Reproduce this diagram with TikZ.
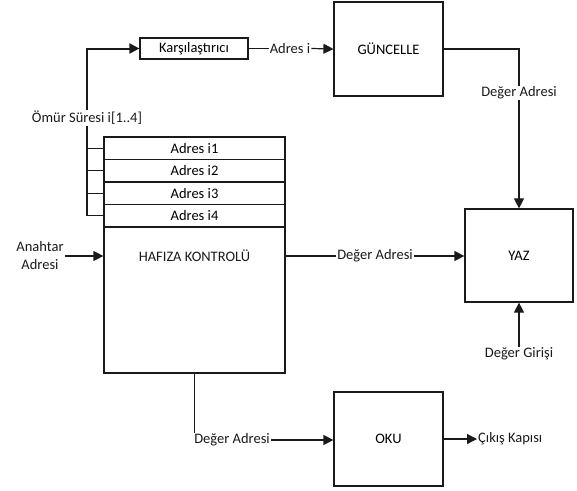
\documentclass[tikz,border=0pt]{standalone}
\usepackage{fontspec}
\setmainfont{Carlito}
\usetikzlibrary{arrows.meta}

\definecolor{blockink}{HTML}{1A1A1A}
\tikzset{
  block/.style={draw=blockink, line width=1.2pt, inner sep=0pt},
  tag/.style={inner sep=1pt, text=blockink},
  link/.style={blockink, line width=1.2pt},
  flow/.style={link, -{Triangle[length=10pt, width=10pt]}},
  bus/.style={blockink, line width=2pt},
}

\begin{document}
\begin{tikzpicture}[x=1pt, y=-1pt, font=\fontsize{14.5}{18}\selectfont]
  \useasboundingbox (0,0) rectangle (577,490);

  % blocks
  \node[block, minimum width=108pt, minimum height=21pt] (karsi) at (194,48.5) {Karşılaştırıcı};
  \node[block, minimum width=109pt, minimum height=94pt] (guncelle) at (388.5,49) {GÜNCELLE};
  \node[block, minimum width=108pt, minimum height=93pt] (yaz) at (519,255.5) {YAZ};
  \node[block, minimum width=109pt, minimum height=94pt] (oku) at (388.5,439) {OKU};

  % memory table
  \foreach \i/\y in {1/148.25, 2/170.75, 3/193.25, 4/215.75}
    \node[block, minimum width=181pt, minimum height=22.5pt] (row\i) at (194.5,\y) {Adres i\i};
  \node[block, minimum width=181pt, minimum height=146pt] (hafiza) at (194.5,300) {};
  \node[tag] (hafizalbl) at (194.5,256) {HAFIZA KONTROLÜ};

  % labels
  \node[tag] (omur) at (87,118) {Ömür Süresi i[1..4]};
  \node[tag] (adresi) at (290,48.5) {Adres i};
  \node[tag] (deger1) at (375,256) {Değer Adresi};
  \node[tag] (deger2) at (519,93) {Değer Adresi};
  \node[tag] (deger3) at (232,440) {Değer Adresi};
  \node[tag, align=center] (anahtar) at (40,256) {Anahtar\\Adresi};
  \node[tag] (girisi) at (519,354) {Değer Girişi};
  \node[tag, anchor=west] (cikis) at (477,439) {Çıkış Kapısı};

  % connectors
  \draw[bus, -{Triangle[length=10pt, width=10pt]}] (omur.north) |- (karsi.west);
  \draw[link] (omur.south) |- (row4.west);
  \foreach \i in {1,2,3}
    \draw[link] (row\i.west) -- (omur.south |- row\i.west);
  \draw[link] (karsi.east) -- (adresi.west);
  \draw[flow] (adresi.east) -- (guncelle.west);
  \draw[link] (guncelle.east) -| (deger2.north);
  \draw[flow] (deger2.south) -- (yaz.north);
  \draw[flow] (anahtar.east |- hafizalbl) -- (hafiza.west |- hafizalbl);
  \draw[link] (hafiza.east |- hafizalbl) -- (deger1.west);
  \draw[flow] (deger1.east) -- (yaz.west |- deger1);
  \draw[flow] (girisi.north) -- (yaz.south);
  \draw[link] (hafiza.south) -- (hafiza.south |- deger3.north);
  \draw[flow] (deger3.east) -- (oku.west |- deger3);
  \draw[flow] (oku.east) -- (cikis.west);
\end{tikzpicture}
\end{document}
